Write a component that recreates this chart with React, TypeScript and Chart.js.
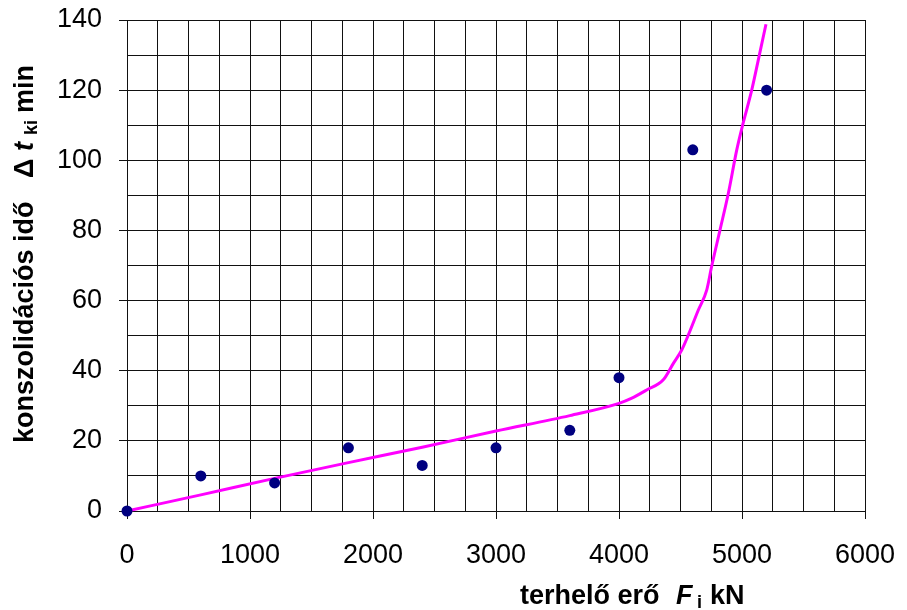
import React, { useEffect, useRef } from "react";
import { Chart, registerables } from "chart.js";

Chart.register(...registerables);

// Measured points: load (kN) and consolidation time (min)
const LOAD_KN = [0, 600, 1200, 1800, 2400, 3000, 3600, 4000, 4600, 5200];
const TIME_MIN = [0, 10, 8, 18, 13, 18, 23, 38, 103, 120];

// Fitted trend curve
const CURVE_LOAD = [0, 600, 1200, 1800, 2400, 3000, 3600, 4000, 4100, 4225, 4360, 4442, 4510, 4564, 4645, 4713, 4753, 4821, 4889, 4957, 5005, 5079, 5141, 5195];
const CURVE_TIME = [0, 4.6, 9.3, 13.8, 18.2, 22.8, 27.2, 30.7, 32.1, 34.5, 37.4, 42.1, 45.9, 50.2, 57.3, 63.0, 69.7, 80.1, 90.6, 102.9, 110, 120, 130, 138.8];

const X_MIN = 0;
const X_MAX = 6000;
const X_GRID_STEP = 250;
const X_LABEL_STEP = 1000;
const Y_MIN = 0;
const Y_MAX = 140;
const Y_GRID_STEP = 10;
const Y_LABEL_STEP = 20;

const FAMILY = '"Liberation Sans", Arial, Helvetica, sans-serif';
const BOLD = `bold 27px ${FAMILY}`;
const BOLD_ITALIC = `italic bold 27px ${FAMILY}`;
const SUB = `bold 18px ${FAMILY}`;

type Run = { text: string; font: string; at: number; dy: number };

// x title pieces, positioned along the bottom edge
const X_TITLE: Run[] = [
  { text: "terhelő erő", font: BOLD, at: 520, dy: 0 },
  { text: "F", font: BOLD_ITALIC, at: 676, dy: 0 },
  { text: "i", font: SUB, at: 697, dy: 4 },
  { text: "kN", font: BOLD, at: 710, dy: 0 },
];

// y title pieces, offsets measured upward from the start point
const Y_TITLE: Run[] = [
  { text: "konszolidációs idő", font: BOLD, at: 0, dy: 0 },
  { text: "Δ", font: BOLD, at: 265, dy: 0 },
  { text: "t", font: BOLD_ITALIC, at: 292, dy: 0 },
  { text: "ki", font: SUB, at: 308, dy: 4 },
  { text: "min", font: BOLD, at: 330, dy: 0 },
];

const titlesPlugin = {
  id: "richAxisTitles",
  afterDraw(chart: any) {
    const { ctx, chartArea } = chart;
    ctx.save();
    ctx.fillStyle = "#000";
    ctx.textAlign = "left";
    ctx.textBaseline = "alphabetic";
    const baseY = chartArea.bottom + 93;
    for (const r of X_TITLE) {
      ctx.font = r.font;
      ctx.fillText(r.text, r.at, baseY + r.dy);
    }
    ctx.translate(chartArea.left - 94, 443);
    ctx.rotate(-Math.PI / 2);
    for (const r of Y_TITLE) {
      ctx.font = r.font;
      ctx.fillText(r.text, r.at, r.dy);
    }
    ctx.restore();
  },
};

const GRID = "#111";

// fixed axis band sizes; labels may overhang the plot edges freely
const fixScale = (size: { width?: number; height?: number }) => (scale: any) => {
  if (size.width !== undefined) scale.width = size.width;
  if (size.height !== undefined) scale.height = size.height;
  scale.paddingTop = 0;
  scale.paddingBottom = 0;
  scale.paddingLeft = 0;
  scale.paddingRight = 0;
};

export default function App() {
  const canvasRef = useRef<HTMLCanvasElement | null>(null);

  useEffect(() => {
    document.body.style.margin = "0";
    const canvas = canvasRef.current;
    if (!canvas) return;

    const chart = new Chart(canvas, {
      type: "scatter",
      data: {
        datasets: [
          {
            label: "mért",
            data: LOAD_KN.map((x, i) => ({ x, y: TIME_MIN[i] })),
            backgroundColor: "#000080",
            borderColor: "#000080",
            pointRadius: 5.5,
            pointBorderWidth: 0,
            showLine: false,
            clip: false,
            order: 0,
          } as any,
          {
            label: "trend",
            data: CURVE_LOAD.map((x, i) => ({ x, y: CURVE_TIME[i] })),
            borderColor: "#FF00FF",
            backgroundColor: "#FF00FF",
            borderWidth: 3,
            pointRadius: 0,
            showLine: true,
            clip: false,
            cubicInterpolationMode: "monotone",
            order: 1,
          } as any,
        ],
      },
      options: {
        animation: false,
        responsive: true,
        maintainAspectRatio: false,
        layout: { padding: { top: 20, right: 42, left: 0, bottom: 0 } },
        plugins: {
          legend: { display: false },
          tooltip: { enabled: false },
          title: { display: false },
        },
        scales: {
          x: {
            type: "linear",
            min: X_MIN,
            max: X_MAX,
            afterFit: fixScale({ height: 99 }),
            ticks: {
              stepSize: X_GRID_STEP,
              autoSkip: false,
              maxRotation: 0,
              padding: 20,
              color: "#000",
              font: { family: FAMILY, size: 27 },
              callback: (v: any) => (Number(v) % X_LABEL_STEP === 0 ? String(v) : ""),
            },
            grid: {
              color: GRID,
              lineWidth: 1,
              tickLength: 8,
              tickColor: (c: any) =>
                c.tick && c.tick.value % X_LABEL_STEP === 0 ? GRID : "rgba(0,0,0,0)",
            },
            border: { color: GRID, width: 1 },
          },
          y: {
            type: "linear",
            min: Y_MIN,
            max: Y_MAX,
            afterFit: fixScale({ width: 127 }),
            ticks: {
              stepSize: Y_GRID_STEP,
              autoSkip: false,
              padding: 17,
              color: "#000",
              font: { family: FAMILY, size: 27 },
              callback: (v: any) => (Number(v) % Y_LABEL_STEP === 0 ? String(v) : ""),
            },
            grid: {
              color: GRID,
              lineWidth: 1,
              tickLength: 8,
              tickColor: (c: any) =>
                c.tick && c.tick.value % Y_LABEL_STEP === 0 ? GRID : "rgba(0,0,0,0)",
            },
            border: { color: GRID, width: 1 },
          },
        },
      },
      plugins: [titlesPlugin],
    });

    return () => chart.destroy();
  }, []);

  return (
    <div style={{ position: "relative", width: 907, height: 610 }}>
      <canvas ref={canvasRef} />
    </div>
  );
}
